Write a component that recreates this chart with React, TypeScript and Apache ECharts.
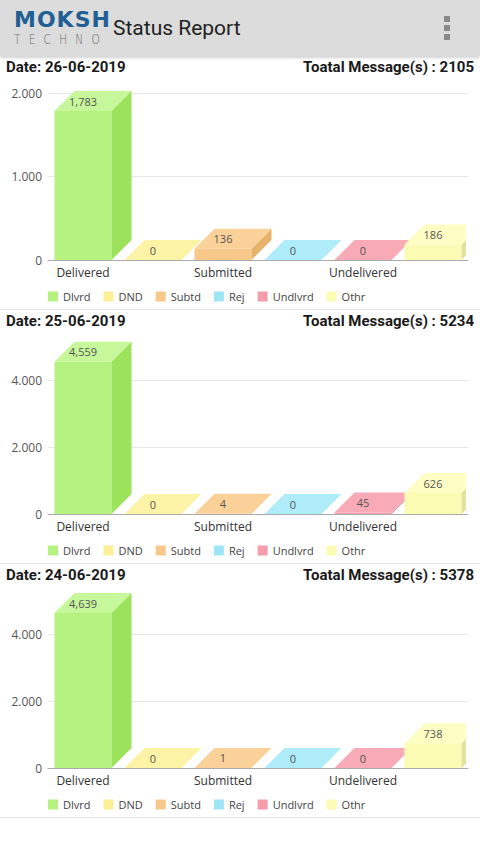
import React, { useEffect, useRef } from 'react';
import * as echarts from 'echarts';

const categories = ['Delivered', 'DND', 'Submitted', 'Rejected', 'Undelivered', 'Other'];
const legendNames = ['Dlvrd', 'DND', 'Subtd', 'Rej', 'Undlvrd', 'Othr'];
const reportDates = ['26-06-2019', '25-06-2019', '24-06-2019'];
const totalMessages = [2105, 5234, 5378];
const values26 = [1783, 0, 136, 0, 0, 186];
const values25 = [4559, 0, 4, 0, 45, 626];
const values24 = [4639, 0, 1, 0, 0, 738];
const panelValues = [values26, values25, values24];
const axisMax = [2000, 5000, 5000];
const axisInterval = [1000, 2000, 2000];

const frontColors = ['#b6f27f', '#fcef95', '#f8c88a', '#9ee6f6', '#f59dab', '#fbfbb3'];
const topColors = ['#c6f79a', '#fdf3a6', '#fbd19a', '#aeecf9', '#f8aab6', '#fdfdc4'];
const sideColors = ['#9de25b', '#ece07a', '#e6b26c', '#84d4e6', '#e3828f', '#e2e29a'];

const FONT = '"Open Sans", sans-serif';

function dotThousands(v: number): string {
  return String(v).replace(/\B(?=(\d{3})+(?!\d))/g, '.');
}
function commaThousands(v: number): string {
  return String(v).replace(/\B(?=(\d{3})+(?!\d))/g, ',');
}

function clipX(pts: number[][], xc: number): number[][] {
  const out: number[][] = [];
  const n = pts.length;
  for (let i = 0; i < n; i++) {
    const cur = pts[i];
    const prev = pts[(i + n - 1) % n];
    const curIn = cur[0] <= xc;
    const prevIn = prev[0] <= xc;
    const inter = () => {
      const t = (xc - prev[0]) / (cur[0] - prev[0]);
      return [xc, prev[1] + t * (cur[1] - prev[1])];
    };
    if (curIn) {
      if (!prevIn) out.push(inter());
      out.push(cur);
    } else if (prevIn) {
      out.push(inter());
    }
  }
  return out;
}

function makeRender(idx: number) {
  return (params: any, api: any) => {
    const cat = api.value(0);
    const v = api.value(1);
    const base = api.coord([cat, 0]);
    const topP = api.coord([cat, v]);
    const bw = api.size([1, 0])[0] * 0.815;
    const xl = base[0] - bw / 2;
    const xr = base[0] + bw / 2;
    const yb = base[1];
    const yt = topP[1];
    const D = 20;
    const cs = params.coordSys;
    const xc = cs.x + cs.width - 2;
    const faces = [
      { pts: [[xl, yt], [xr, yt], [xr, yb], [xl, yb]], fill: frontColors[idx] },
      { pts: [[xr, yt], [xr + D, yt - D], [xr + D, yb - D], [xr, yb]], fill: sideColors[idx] },
      { pts: [[xl, yt], [xl + D, yt - D], [xr + D, yt - D], [xr, yt]], fill: topColors[idx] },
    ];
    const children: any[] = [];
    faces.forEach((f) => {
      const c = clipX(f.pts, xc);
      if (c.length >= 3) {
        children.push({ type: 'polygon', shape: { points: c }, style: { fill: f.fill } });
      }
    });
    children.push({
      type: 'text',
      x: base[0],
      y: yt - D / 2,
      style: {
        text: commaThousands(v),
        align: 'center',
        verticalAlign: 'middle',
        fill: '#555',
        fontSize: 11,
        fontFamily: FONT,
      },
    });
    return { type: 'group', children };
  };
}

function Panel({ index }: { index: number }) {
  const ref = useRef<HTMLDivElement>(null);
  useEffect(() => {
    if (!ref.current) return;
    const chart = echarts.init(ref.current, undefined, { renderer: 'svg' });
    const vals = panelValues[index];
    const max = axisMax[index];
    const interval = axisInterval[index];
    const maxIsTick = max % interval === 0;
    const titleStyle = {
      fontFamily: 'Roboto, sans-serif',
      fontWeight: 'bold' as const,
      fontSize: 15,
      color: '#1a1a1a',
      lineHeight: 18,
    };
    chart.setOption({
      animation: false,
      title: [
        { text: 'Date: ' + reportDates[index], left: 6, top: 2, padding: 0, textStyle: titleStyle },
        { text: 'Toatal Message(s) : ' + totalMessages[index], right: 6, top: 2, padding: 0, textStyle: titleStyle },
      ],
      grid: { left: 48, right: 12, top: 37, height: 167 },
      legend: {
        left: 48,
        top: 235,
        padding: 0,
        itemWidth: 10,
        itemHeight: 10,
        itemGap: 13,
        icon: 'rect',
        data: legendNames,
        textStyle: { fontFamily: FONT, fontSize: 11, color: '#444' },
      },
      xAxis: {
        type: 'category',
        data: categories,
        axisTick: { show: false },
        axisLine: { lineStyle: { color: '#aaaaaa' } },
        axisLabel: { interval: 1, margin: 6, fontSize: 12, color: '#333', fontFamily: FONT },
      },
      yAxis: {
        type: 'value',
        min: 0,
        max,
        interval,
        axisLine: { show: false },
        axisTick: { show: false },
        splitLine: { show: true, showMaxLine: maxIsTick, lineStyle: { color: '#e8e8e8' } },
        axisLabel: {
          margin: 6,
          fontSize: 12,
          color: '#555',
          fontFamily: FONT,
          showMaxLabel: maxIsTick,
          formatter: (v: number) => (v % interval === 0 ? dotThousands(v) : ''),
        },
      },
      series: legendNames.map((name, i) => ({
        type: 'custom',
        name,
        data: [[i, vals[i]]],
        encode: { x: 0, y: 1 },
        itemStyle: { color: frontColors[i] },
        renderItem: makeRender(i),
      })),
    });
    return () => chart.dispose();
  }, [index]);
  return (
    <div style={{ borderBottom: '1px solid #e4e4e4', background: '#fff' }}>
      <div ref={ref} style={{ width: 480, height: 253 }} />
    </div>
  );
}

export default function App() {
  useEffect(() => {
    document.body.style.margin = '0';
    document.body.style.background = '#fff';
  }, []);
  return (
    <div style={{ width: 480, height: 853, overflow: 'hidden', background: '#fff', position: 'relative' }}>
      <div
        style={{
          height: 56,
          background: '#dcdcdc',
          boxShadow: '0 2px 3px rgba(0,0,0,0.18)',
          position: 'relative',
          zIndex: 2,
        }}
      >
        <div
          style={{
            position: 'absolute',
            left: 14,
            top: 9,
            fontFamily: '"DejaVu Sans", sans-serif',
            fontWeight: 900,
            fontSize: 22,
            letterSpacing: 1,
            color: '#215f94',
            lineHeight: '22px',
          }}
        >
          MOKSH
        </div>
        <div
          style={{
            position: 'absolute',
            left: 14,
            top: 31,
            fontFamily: '"DejaVu Sans", sans-serif',
            fontWeight: 300,
            fontSize: 14,
            letterSpacing: 11,
            color: '#6a6a6a',
            lineHeight: '16px',
            transform: 'scaleX(0.75)',
            transformOrigin: 'left',
          }}
        >
          TECHNO
        </div>
        <div
          style={{
            position: 'absolute',
            left: 113,
            top: 15,
            fontFamily: 'Roboto, sans-serif',
            fontSize: 21,
            color: '#222',
            lineHeight: '26px',
          }}
        >
          Status Report
        </div>
        {[16, 25, 34].map((t) => (
          <div
            key={t}
            style={{ position: 'absolute', left: 444, top: t, width: 6, height: 6, background: '#8a8a8a' }}
          />
        ))}
      </div>
      {[0, 1, 2].map((i) => (
        <Panel key={i} index={i} />
      ))}
    </div>
  );
}
